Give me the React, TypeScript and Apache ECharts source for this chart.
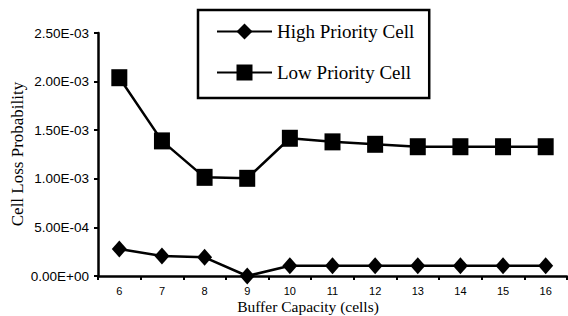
import React, { useEffect, useRef } from "react";
import * as echarts from "echarts";

const categories = ["6", "7", "8", "9", "10", "11", "12", "13", "14", "15", "16"];
const highPriority = [2.78e-4, 2.06e-4, 1.92e-4, 0, 1.05e-4, 1.05e-4, 1.05e-4, 1.05e-4, 1.05e-4, 1.05e-4, 1.05e-4];
const lowPriority = [2.04e-3, 1.39e-3, 1.015e-3, 1.005e-3, 1.417e-3, 1.38e-3, 1.355e-3, 1.33e-3, 1.33e-3, 1.33e-3, 1.33e-3];
const seriesNames = ["High Priority Cell", "Low Priority Cell"];
const xTitle = "Buffer Capacity (cells)";
const yTitle = "Cell Loss Probability";

const SERIF = "Liberation Serif, Times New Roman, serif";
const SANS = "Liberation Sans, Arial, sans-serif";

function fmtSci(v: number): string {
  if (v === 0) return "0.00E+00";
  const s = v.toExponential(2);
  const [m, e] = s.split("e");
  const n = parseInt(e, 10);
  const sign = n < 0 ? "-" : "+";
  const a = Math.abs(n);
  return m + "E" + sign + (a < 10 ? "0" + a : String(a));
}

export default function App() {
  const ref = useRef<HTMLDivElement>(null);
  useEffect(() => {
    if (!ref.current) return;
    const chart = echarts.init(ref.current, undefined, { renderer: "svg" });
    chart.setOption({
      animation: false,
      backgroundColor: "#ffffff",
      grid: { left: 98, right: 1, top: 33, bottom: 40, containLabel: false },
      legend: {
        left: 198,
        top: 10,
        orient: "vertical",
        backgroundColor: "#ffffff",
        borderColor: "#000000",
        borderWidth: 2.5,
        borderRadius: 0,
        padding: [12, 15, 16, 18],
        itemGap: 22,
        itemWidth: 55,
        itemHeight: 20,
        textStyle: { fontFamily: SERIF, fontSize: 19, color: "#000000" },
        data: seriesNames,
      },
      xAxis: {
        type: "category",
        data: categories,
        boundaryGap: true,
        axisLine: { lineStyle: { color: "#000000", width: 2.5 } },
        axisTick: { show: true, length: 4, inside: false, lineStyle: { color: "#000000", width: 2 } },
        axisLabel: { color: "#000000", fontFamily: SANS, fontSize: 11, margin: 9 },
        splitLine: { show: false },
      },
      yAxis: {
        type: "value",
        min: 0,
        max: 2.5e-3,
        interval: 5e-4,
        axisLine: { show: true, lineStyle: { color: "#000000", width: 2.5 } },
        axisTick: { show: true, length: 4, lineStyle: { color: "#000000", width: 2 } },
        axisLabel: { color: "#000000", fontFamily: SANS, fontSize: 13.5, margin: 9, formatter: (v: number) => fmtSci(v) },
        splitLine: { show: false },
      },
      graphic: [
        {
          type: "text",
          x: 308,
          y: 306,
          style: { text: xTitle, font: "15.5px " + SERIF, fill: "#000000", align: "center", verticalAlign: "middle" },
        },
        {
          type: "text",
          x: 17,
          y: 154,
          rotation: Math.PI / 2,
          style: { text: yTitle, font: "17px " + SERIF, fill: "#000000", align: "center", verticalAlign: "middle" },
        },
      ],
      series: [
        {
          name: seriesNames[0],
          type: "line",
          data: highPriority,
          symbol: "diamond",
          symbolSize: [15, 17],
          lineStyle: { color: "#000000", width: 2.5 },
          itemStyle: { color: "#000000" },
        },
        {
          name: seriesNames[1],
          type: "line",
          data: lowPriority,
          symbol: "rect",
          symbolSize: [16, 17],
          lineStyle: { color: "#000000", width: 2.5 },
          itemStyle: { color: "#000000" },
        },
      ],
    });
    return () => chart.dispose();
  }, []);
  return (
    <div
      ref={ref}
      style={{ position: "fixed", left: 0, top: 0, width: 568, height: 316, background: "#fff" }}
    />
  );
}
